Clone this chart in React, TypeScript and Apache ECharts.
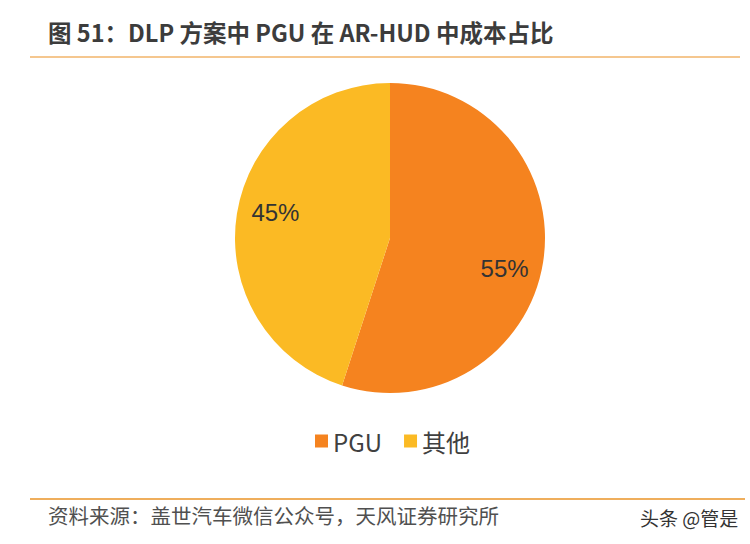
import React, { useEffect, useRef } from "react";
import * as echarts from "echarts";

const categories = ["PGU", "其他"];
const values = [55, 45];
const colors = ["#F5831F", "#FBBA24"];
const titleText = "图 51：DLP 方案中 PGU 在 AR-HUD 中成本占比";
const sourceText = "资料来源：盖世汽车微信公众号，天风证券研究所";
const watermarkText = "头条 @管是";

export default function App() {
  const ref = useRef<HTMLDivElement>(null);
  useEffect(() => {
    document.body.style.margin = "0";
    const chart = echarts.init(ref.current!, null, { renderer: "svg" });
    const data = categories.map((name, i) => ({ name, value: values[i], itemStyle: { color: colors[i] } }));
    chart.setOption({
      animation: false,
      backgroundColor: "#ffffff",
      legend: {
        data: categories,
        left: 310,
        top: 424,
        icon: "rect",
        itemWidth: 13,
        itemHeight: 13,
        itemGap: 22,
        textStyle: { fontSize: 24, color: "#404040", fontFamily: "'Noto Sans CJK SC', 'Noto Sans', sans-serif" },
      },
      graphic: [
        {
          type: "text",
          left: 48,
          top: 20,
          style: {
            text: titleText,
            fontSize: 23.5,
            fontWeight: "bold",
            fill: "#3c3c3c",
            fontFamily: "'Noto Sans CJK SC', sans-serif",
          },
        },
        { type: "line", shape: { x1: 30, y1: 57, x2: 740, y2: 57 }, style: { stroke: "#F2B46A", lineWidth: 1.5 } },
        { type: "line", shape: { x1: 30, y1: 499, x2: 745, y2: 499 }, style: { stroke: "#EFAE5C", lineWidth: 2 } },
        {
          type: "text",
          left: 48,
          top: 505,
          style: { text: sourceText, fontSize: 20.5, fill: "#505050", fontFamily: "'Noto Sans CJK SC', sans-serif" },
        },
        {
          type: "text",
          left: 640,
          top: 508,
          style: { text: watermarkText, fontSize: 19, fill: "#333333", fontFamily: "'Noto Sans CJK SC', sans-serif" },
        },
      ],
      series: [
        {
          type: "pie",
          center: [390, 238],
          radius: [0, 155],
          startAngle: 90,
          clockwise: true,
          label: { show: false },
          labelLine: { show: false },
          emphasis: { disabled: true },
          data,
        },
        {
          type: "pie",
          center: [390, 238],
          radius: [71, 155],
          startAngle: 90,
          clockwise: true,
          silent: true,
          itemStyle: { color: "transparent" },
          label: {
            show: true,
            position: "inner",
            formatter: "{c}%",
            fontSize: 24,
            color: "#333333",
            fontFamily: "'Liberation Sans', Arial, sans-serif",
          },
          labelLayout: (p: any) => ({ dy: p.dataIndex === 0 ? 12 : -7 }),
          labelLine: { show: false },
          emphasis: { disabled: true },
          data: categories.map((name, i) => ({ name, value: values[i], itemStyle: { color: "transparent" } })),
        },
      ],
    });
    return () => chart.dispose();
  }, []);
  return <div ref={ref} style={{ width: 750, height: 544 }} />;
}
